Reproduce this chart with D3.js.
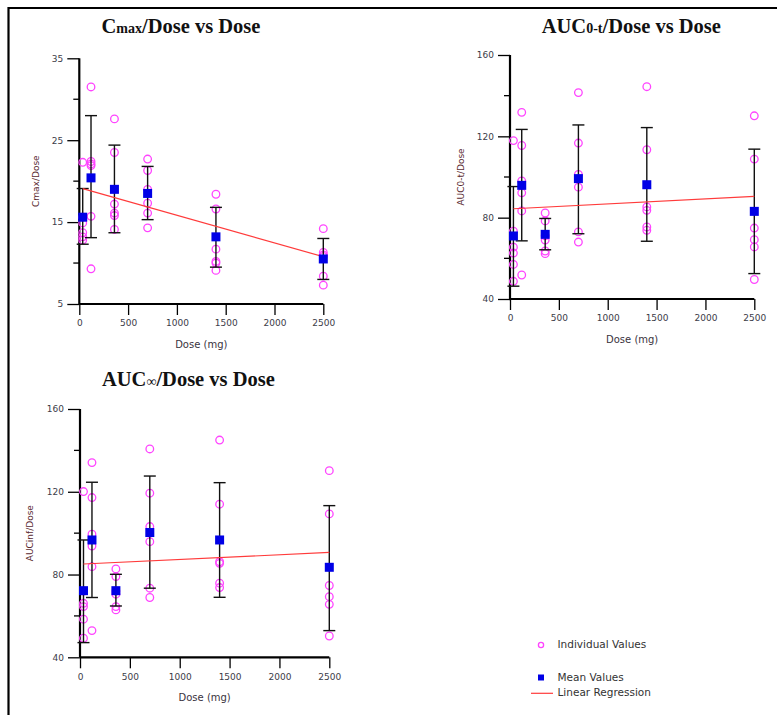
<!DOCTYPE html>
<html>
<head>
<meta charset="utf-8">
<script src="https://cdn.jsdelivr.net/npm/d3@7"></script>
<style>
  html, body { margin: 0; padding: 0; background: #fff; }
  svg { display: block; }
</style>
</head>
<body>
<script>
// Dose levels (mg)
const doses = [35, 120, 360, 700, 1400, 2500];
const xTicks = [0, 500, 1000, 1500, 2000, 2500];

// Cmax/Dose
const cmaxIndividual = [
  [22.3, 15.6, 14.9, 13.7, 13.2, 12.8],
  [31.5, 22.4, 22.1, 21.9, 15.7, 9.3],
  [27.6, 23.5, 17.2, 16.1, 15.8, 14.1],
  [22.7, 21.3, 19.0, 17.3, 16.1, 14.3],
  [18.4, 16.6, 11.7, 10.2, 10.0, 9.1],
  [14.2, 11.3, 11.0, 10.8, 8.4, 7.3]
];
const cmaxMean = [15.6, 20.4, 19.0, 18.5, 13.2, 10.5];
const cmaxLow  = [12.3, 13.1, 13.7, 15.3, 9.5, 8.0];
const cmaxHigh = [19.1, 28.0, 24.4, 21.8, 16.8, 13.0];
const cmaxFit = [19.2, -0.00337];          // intercept, slope
const cmaxTicks = [5, 15, 25, 35];
const cmaxMinor = [10, 20, 30];

// AUC0-t/Dose
const auctIndividual = [
  [117.9, 73.4, 65.5, 62.6, 57.0, 48.7],
  [131.8, 115.5, 98.1, 92.2, 83.3, 51.8],
  [82.3, 78.4, 71.1, 69.0, 63.6, 62.3],
  [141.5, 116.7, 101.3, 95.0, 73.0, 68.0],
  [144.4, 113.4, 85.3, 83.6, 75.4, 73.8],
  [130.1, 108.8, 74.9, 69.2, 65.6, 49.6]
];
const auctMean = [71.0, 95.9, 71.8, 99.2, 96.2, 83.1];
const auctLow  = [46.3, 68.6, 64.2, 72.1, 68.4, 52.5];
const auctHigh = [95.3, 123.4, 79.6, 125.6, 124.3, 113.7];
const auctFit = [84.3, 0.00247];
const aucTicks = [40, 80, 120, 160];
const aucMinor = [60, 100, 140];

// AUCinf/Dose
const aucinfIndividual = [
  [120.1, 72.0, 66.1, 64.5, 58.4, 49.2],
  [134.1, 117.2, 99.5, 93.8, 83.8, 52.9],
  [82.7, 79.0, 72.0, 70.5, 64.5, 62.9],
  [140.7, 119.3, 103.2, 95.9, 73.4, 68.9],
  [145.0, 114.0, 86.2, 85.4, 75.8, 73.7],
  [130.2, 109.3, 74.7, 69.3, 65.6, 50.3]
];
const aucinfMean = [72.2, 96.7, 72.2, 100.3, 96.7, 83.5];
const aucinfLow  = [47.1, 68.9, 64.8, 73.4, 69.0, 52.9];
const aucinfHigh = [96.7, 124.6, 80.1, 127.6, 124.4, 113.3];
const aucinfFit = [85.0, 0.00227];

const legendLabels = ["Individual Values", "Mean Values", "Linear Regression"];

const W = 777, H = 715;
const MAGENTA = "#ff44ff", BLUE = "#0000e6", RED = "#ff3b3b";
const SANS = "'DejaVu Sans', Verdana, sans-serif";
const SERIF = "'Liberation Serif', 'Times New Roman', serif";

const svg = d3.select("body").append("svg")
  .attr("width", W).attr("height", H);

// outer frame (top and left edges)
svg.append("line").attr("x1", 8).attr("x2", W).attr("y1", 8).attr("y2", 8)
  .attr("stroke", "#000").attr("stroke-width", 2.2);
svg.append("line").attr("x1", 8.5).attr("x2", 8.5).attr("y1", 7).attr("y2", H)
  .attr("stroke", "#000").attr("stroke-width", 2.2);

function drawPanel(p) {
  const x = d3.scaleLinear().domain([0, 2500]).range([p.x0, p.x1]);
  const y = d3.scaleLinear().domain(p.yDomain).range([p.y1, p.y0]);
  const g = svg.append("g");

  // title with a smaller inline part
  const t = g.append("text")
    .attr("x", p.titleX).attr("y", p.titleY)
    .attr("text-anchor", "middle")
    .attr("font-family", SERIF).attr("font-weight", "bold")
    .attr("font-size", 20.5).attr("fill", "#111");
  p.title.forEach(part => {
    t.append("tspan").text(part.t)
      .attr("font-size", part.small ? 14 : 20.5)
      .attr("font-weight", part.light ? "normal" : "bold");
  });

  // y axis
  const yAxis = g.append("g").attr("transform", `translate(${p.x0},0)`)
    .call(d3.axisLeft(y).tickValues(p.yTicks).tickSize(12).tickPadding(4).tickFormat(d3.format("d")));
  yAxis.append("g").selectAll("line").data(p.yMinor).join("line")
    .attr("x1", -6).attr("x2", 0).attr("y1", d => y(d)).attr("y2", d => y(d))
    .attr("stroke", "#000").attr("stroke-width", 1.3);

  // x axis
  const xAxis = g.append("g").attr("transform", `translate(0,${p.y1})`)
    .call(d3.axisBottom(x).tickValues(xTicks).tickSize(11).tickPadding(5).tickFormat(d3.format("d")));

  [yAxis, xAxis].forEach(a => {
    a.select(".domain").attr("stroke", "#000").attr("stroke-width", 2.2);
    a.selectAll(".tick line").attr("stroke", "#000").attr("stroke-width", 1.3);
    a.selectAll(".tick text").attr("font-family", SANS).attr("font-size", 9).attr("fill", "#3c3c48");
  });
  // flat domain paths without end ticks
  yAxis.select(".domain").attr("d", `M0,${p.y0}V${p.y1}`);
  xAxis.select(".domain").attr("d", `M${p.x0},0H${p.x1}`);

  // axis titles
  g.append("text").attr("x", (p.x0 + p.x1) / 2).attr("y", p.y1 + 41)
    .attr("text-anchor", "middle").attr("dominant-baseline", "middle")
    .attr("font-family", SANS).attr("font-size", 10).attr("fill", "#3a3340")
    .text("Dose (mg)");
  g.append("text")
    .attr("transform", `translate(${p.x0 - p.yLabelOff},${(p.y0 + p.y1) / 2}) rotate(-90)`)
    .attr("text-anchor", "middle").attr("dominant-baseline", "middle")
    .attr("font-family", SANS).attr("font-size", 9).attr("fill", "#5a2a30")
    .text(p.yLabel);

  // individual values
  const pts = p.individual.flatMap((vals, i) => vals.map(v => ({ dose: doses[i], v })));
  g.append("g").selectAll("circle").data(pts).join("circle")
    .attr("cx", d => x(d.dose)).attr("cy", d => y(d.v)).attr("r", 3.8)
    .attr("fill", "none").attr("stroke", MAGENTA).attr("stroke-width", 1.3);

  // error bars
  const eb = g.append("g").attr("stroke", "#111").attr("stroke-width", 1.4);
  doses.forEach((d, i) => {
    const cx = x(d);
    eb.append("line").attr("x1", cx).attr("x2", cx).attr("y1", y(p.low[i])).attr("y2", y(p.high[i]));
    [p.low[i], p.high[i]].forEach(v => {
      eb.append("line").attr("x1", cx - 6).attr("x2", cx + 6).attr("y1", y(v)).attr("y2", y(v));
    });
  });

  // regression line
  const fit = dd => p.fit[0] + p.fit[1] * dd;
  g.append("line")
    .attr("x1", x(doses[0])).attr("y1", y(fit(doses[0])))
    .attr("x2", x(doses[doses.length - 1])).attr("y2", y(fit(doses[doses.length - 1])))
    .attr("stroke", RED).attr("stroke-width", 1.2);

  // mean values
  g.append("g").selectAll("rect").data(p.mean).join("rect")
    .attr("x", (v, i) => x(doses[i]) - 4.5).attr("y", v => y(v) - 4.5)
    .attr("width", 9).attr("height", 9).attr("fill", BLUE);
}

drawPanel({
  x0: 79.3, x1: 323.3, y0: 58.3, y1: 304, yDomain: [5, 35],
  yTicks: cmaxTicks, yMinor: cmaxMinor,
  individual: cmaxIndividual, mean: cmaxMean, low: cmaxLow, high: cmaxHigh, fit: cmaxFit,
  title: [{ t: "C" }, { t: "max", small: true }, { t: "/Dose vs Dose" }],
  titleX: 181, titleY: 33, yLabel: "Cmax/Dose", yLabelOff: 43
});

drawPanel({
  x0: 510, x1: 754.3, y0: 55, y1: 299, yDomain: [40, 160],
  yTicks: aucTicks, yMinor: aucMinor,
  individual: auctIndividual, mean: auctMean, low: auctLow, high: auctHigh, fit: auctFit,
  title: [{ t: "AUC" }, { t: "0-t", small: true }, { t: "/Dose vs Dose" }],
  titleX: 631.3, titleY: 32.5, yLabel: "AUC0-t/Dose", yLabelOff: 49
});

drawPanel({
  x0: 80, x1: 329.3, y0: 409, y1: 657.3, yDomain: [40, 160],
  yTicks: aucTicks, yMinor: aucMinor,
  individual: aucinfIndividual, mean: aucinfMean, low: aucinfLow, high: aucinfHigh, fit: aucinfFit,
  title: [{ t: "AUC" }, { t: "\u221E", small: true, light: true }, { t: "/Dose vs Dose" }],
  titleX: 188.4, titleY: 386, yLabel: "AUCinf/Dose", yLabelOff: 49.5
});

// legend
const lg = svg.append("g").attr("font-family", SANS).attr("font-size", 10.5).attr("fill", "#333");
lg.append("circle").attr("cx", 541).attr("cy", 645).attr("r", 2.6)
  .attr("fill", "none").attr("stroke", MAGENTA).attr("stroke-width", 1.3);
lg.append("rect").attr("x", 538).attr("y", 674.5).attr("width", 6).attr("height", 6).attr("fill", BLUE);
lg.append("line").attr("x1", 531).attr("x2", 553).attr("y1", 693.3).attr("y2", 693.3)
  .attr("stroke", RED).attr("stroke-width", 1.2);
[645, 677.5, 692.5].forEach((yy, i) => {
  lg.append("text").attr("x", 557.5).attr("y", yy).attr("dominant-baseline", "middle")
    .text(legendLabels[i]);
});
</script>
</body>
</html>
